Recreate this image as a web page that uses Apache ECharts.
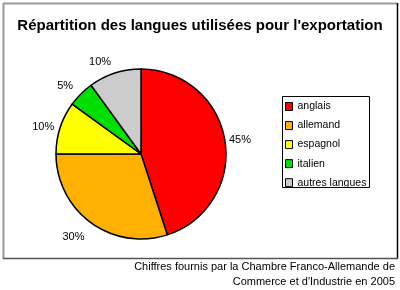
<!DOCTYPE html>
<html>
<head>
<meta charset="utf-8">
<script src="https://cdn.jsdelivr.net/npm/echarts@6/dist/echarts.min.js"></script>
<style>
html,body{margin:0;padding:0;background:#fff;}
#c{width:400px;height:290px;}
</style>
</head>
<body>
<div id="c"></div>
<script>
const titleText = "Répartition des langues utilisées pour l'exportation";
const categories = ['anglais', 'allemand', 'espagnol', 'italien', 'autres langues'];
const values = [45, 30, 10, 5, 10];
const colors = ['#ff0000', '#ffb000', '#ffff00', '#00e000', '#cccccc'];
const footerLines = ['Chiffres fournis par la Chambre Franco-Allemande de', "Commerce et d'Industrie en 2005"];

const labelLens = [2, 18, 2, 11, 12];
const labelDists = [2, -4, 4, 0, 0];

const FONT = '"Liberation Sans", Arial, sans-serif';

const chart = echarts.init(document.getElementById('c'), null, {renderer: 'canvas'});
chart.setOption({
  animation: false,
  backgroundColor: '#ffffff',
  color: colors,
  title: {
    text: titleText,
    left: 'center',
    top: 18,
    padding: 0,
    textStyle: {fontFamily: FONT, fontSize: 15, fontWeight: 'bold', color: '#000', lineHeight: 15}
  },
  legend: {
    orient: 'vertical',
    left: 285,
    top: 101,
    padding: 0,
    itemWidth: 7,
    itemHeight: 8,
    itemGap: 8.05,
    icon: 'rect',
    itemStyle: {borderColor: '#000', borderWidth: 1},
    textStyle: {fontFamily: FONT, fontSize: 10.5, color: '#000', lineHeight: 10},
    data: categories
  },
  graphic: [
    {type: 'line', shape: {x1: 3, y1: 3.5, x2: 397, y2: 3.5}, style: {stroke: '#999', lineWidth: 2}},
    {type: 'line', shape: {x1: 3.5, y1: 3, x2: 3.5, y2: 259}, style: {stroke: '#999', lineWidth: 2}},
    {type: 'line', shape: {x1: 397.5, y1: 3, x2: 397.5, y2: 259}, style: {stroke: '#000', lineWidth: 1.5}},
    {type: 'line', shape: {x1: 3, y1: 258.5, x2: 398, y2: 258.5}, style: {stroke: '#555', lineWidth: 1.5}},
    {type: 'rect', shape: {x: 282.5, y: 96.5, width: 87, height: 91}, style: {fill: 'none', stroke: '#000', lineWidth: 1}},
    {type: 'text', style: {text: footerLines[0], x: 395, y: 267, align: 'right', verticalAlign: 'middle', font: '11px "Liberation Sans", Arial, sans-serif', fill: '#000'}},
    {type: 'text', style: {text: footerLines[1], x: 395, y: 282, align: 'right', verticalAlign: 'middle', font: '11px "Liberation Sans", Arial, sans-serif', fill: '#000'}}
  ],
  series: [{
    type: 'pie',
    center: [141, 154],
    radius: [0, 85],
    startAngle: 90,
    clockwise: true,
    avoidLabelOverlap: false,
    itemStyle: {borderColor: '#000', borderWidth: 1.5},
    label: {show: true, position: 'outside', formatter: '{c}%', fontFamily: FONT, fontSize: 11, color: '#000'},
    labelLine: {show: false, length2: 0},
    emphasis: {disabled: true},
    data: categories.map((n, i) => ({
      name: n,
      value: values[i],
      label: {distanceToLabelLine: labelDists[i]},
      labelLine: {show: false, length: labelLens[i], length2: 0}
    }))
  }]
});
</script>
</body>
</html>
